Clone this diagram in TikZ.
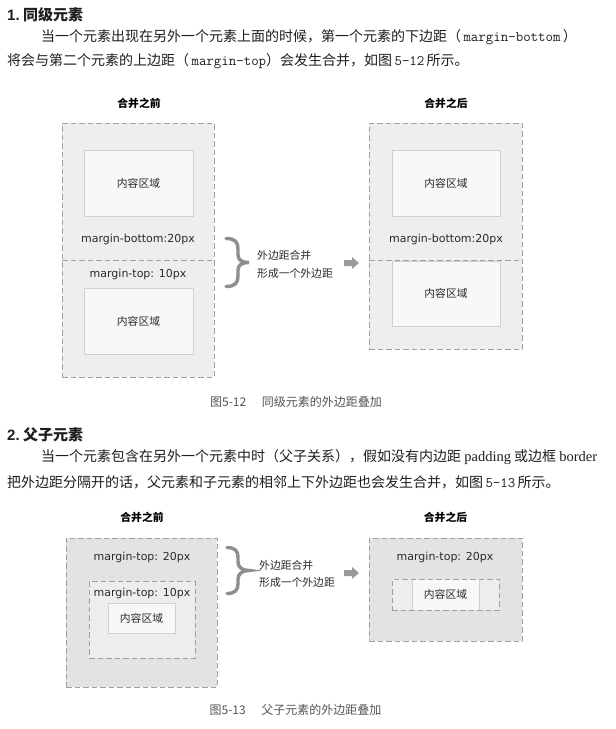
\documentclass[tikz,border=0pt]{standalone}
\usepackage{fontspec}
\setmainfont{Liberation Serif}
\newfontfamily\cjk{Noto Sans CJK SC}
\newfontfamily\dv{DejaVu Sans}
\newfontfamily\hsans{Liberation Sans}
\newfontfamily\lmmono{Latin Modern Mono}
\newcommand{\mcode}[1]{{\lmmono\fontsize{14.5}{16}\selectfont #1}}
\definecolor{bodytxt}{HTML}{1E1E1E}
\definecolor{labc}{HTML}{2A2A2A}
\definecolor{dashc}{HTML}{A0A0A0}
\definecolor{outerA}{HTML}{EEEEEE}
\definecolor{outerB}{HTML}{E3E3E3}
\definecolor{innerB}{HTML}{EDEDED}
\definecolor{contf}{HTML}{F8F8F8}
\definecolor{contd}{HTML}{D0D0D0}
\definecolor{bracec}{HTML}{8E8E8E}
\definecolor{arrc}{HTML}{9A9A9A}
\definecolor{capc}{HTML}{555555}
\begin{document}
\begin{tikzpicture}[x=1pt,y=-1pt,
  box/.style={rectangle, inner sep=0pt, outer sep=0pt, anchor=center},
  outerbox/.style={box, draw=dashc, line width=0.9pt, dash pattern=on 5.5pt off 3pt},
  split/.style={draw=dashc, line width=0.9pt, dash pattern=on 5.5pt off 3pt},
  contbox/.style={box, draw=contd, fill=contf, line width=0.9pt, text=labc, font=\cjk\fontsize{10.8}{12}\selectfont},
  lbl/.style={inner sep=0pt, text=labc, font=\dv\fontsize{11}{12}\selectfont},
  ttl/.style={inner sep=0pt, text=black, font=\cjk\bfseries\fontsize{10.8}{12}\selectfont},
  body/.style={anchor=west, inner sep=0pt, text=bodytxt, font=\cjk\fontsize{14}{16}\selectfont},
  head/.style={anchor=west, inner sep=0pt, text=bodytxt, font=\cjk\bfseries\fontsize{15}{17}\selectfont},
  note/.style={anchor=west, inner sep=0pt, text=labc, font=\cjk\fontsize{10.8}{12}\selectfont},
  figcap/.style={inner sep=0pt, text=capc, font=\cjk\fontsize{12}{13}\selectfont},
  brc/.style={draw=bracec, line width=3.4pt, line cap=round},
  blockarrow/.style={fill=arrc, draw=none}
]
\useasboundingbox[fill=white] (0,0) rectangle (616,729);

% ---------- section 1 text ----------
\node[head] (h1) at (7,15) {{\hsans\bfseries 1.}\ 同级元素};
\node[body] (p1a) at (41,37) {当一个元素出现在另外一个元素上面的时候，第一个元素的下边距（\,\mcode{margin-bottom}\,）};
\node[body] (p1b) at (7,61) {将会与第二个元素的上边距（\,\mcode{margin-top}）会发生合并，如图\,\mcode{5-12}\,所示。};

% ---------- figure 5-12 ----------
\node[ttl] (t1l) at (139,103) {合并之前};
\node[ttl] (t1r) at (446,103) {合并之后};

\node[outerbox, fill=outerA, minimum width=152pt, minimum height=254pt] (o1l) at (138,250) {};
\draw[split] (o1l.west |- 0,260) coordinate (s1a) -- (o1l.east |- 0,260) coordinate (s1b);
\node[contbox, minimum width=109pt, minimum height=66pt] (c1a) at (138.5,183) {内容区域};
\node[contbox, minimum width=109pt, minimum height=66pt] (c1b) at (138.5,321) {内容区域};
\node[lbl] (mb1) at (138,239) {margin-bottom:20px};
\node[lbl] (mt1) at (138,274) {margin-top: 10px};

\draw[brc] (226,238.5) .. controls (235,238.5) and (238,242) .. (238,249) -- (238,255)
  .. controls (238,260) and (242,262.5) .. (249,262.5)
  .. controls (242,262.5) and (238,265) .. (238,270) -- (238,276)
  .. controls (238,283) and (235,286.5) .. (226,286.5);
\node[note] (n1a) at (257,255) {外边距合并};
\node[note] (n1b) at (257,273) {形成一个外边距};
\fill[blockarrow] (344,260) -- (352,260) -- (352,257) -- (359,263) -- (352,269) -- (352,266) -- (344,266) -- cycle;

\node[outerbox, fill=outerA, minimum width=153pt, minimum height=226pt] (o1r) at (445.5,236) {};
\draw[split] (o1r.west |- 0,260) coordinate (s2a) -- (o1r.east |- 0,260) coordinate (s2b);
\node[contbox, minimum width=108pt, minimum height=66pt] (c1c) at (446,183) {内容区域};
\node[contbox, minimum width=108pt, minimum height=65pt] (c1d) at (446,293.5) {内容区域};
\draw[split] (s2a) -- (s2b);
\node[lbl] (mb2) at (446,239) {margin-bottom:20px};

\node[figcap] (cap1) at (296,402) {图5-12\hspace{1.3em}同级元素的外边距叠加};

% ---------- section 2 text ----------
\node[head] (h2) at (7,435) {{\hsans\bfseries 2.}\ 父子元素};
\node[body] (p2a) at (41,457) {当一个元素包含在另外一个元素中时（父子关系），假如没有内边距 {\rmfamily\fontsize{14.5}{16}\selectfont padding} 或边框 {\rmfamily\fontsize{14.5}{16}\selectfont border}};
\node[body] (p2b) at (7,482) {把外边距分隔开的话，父元素和子元素的相邻上下外边距也会发生合并，如图\,\mcode{5-13}\,所示。};

% ---------- figure 5-13 ----------
\node[ttl] (t2l) at (142,517) {合并之前};
\node[ttl] (t2r) at (445.5,517) {合并之后};

\node[outerbox, fill=outerB, minimum width=151pt, minimum height=149pt] (o2l) at (141.5,612.5) {};
\node[lbl] (mt3) at (142,557) {margin-top: 20px};
\node[outerbox, fill=innerB, minimum width=106pt, minimum height=77pt] (i2l) at (142,619.5) {};
\node[lbl] (mt4) at (142,593) {margin-top: 10px};
\node[contbox, minimum width=67pt, minimum height=30pt] (c2a) at (141.5,618) {内容区域};

\draw[brc] (227,547.5) .. controls (235,547.5) and (238,551) .. (238,557) -- (238,562)
  .. controls (238,567) and (242,570.5) .. (249,570.5)
  .. controls (242,570.5) and (238,574) .. (238,579) -- (238,584)
  .. controls (238,590) and (235,593.5) .. (227,593.5);
\node[note] (n2a) at (259,565) {外边距合并};
\node[note] (n2b) at (259,582) {形成一个外边距};
\fill[blockarrow] (344,570) -- (352,570) -- (352,567) -- (359,573) -- (352,579) -- (352,576) -- (344,576) -- cycle;

\node[outerbox, fill=outerB, minimum width=153pt, minimum height=103pt] (o2r) at (445.5,589.5) {};
\node[lbl] (mt5) at (445,557) {margin-top: 20px};
\node[outerbox, fill=innerB, minimum width=107pt, minimum height=31pt] (i2r) at (445.5,594.5) {};
\node[box, fill=contf, minimum width=67pt, minimum height=30pt, text=labc, font=\cjk\fontsize{10.8}{12}\selectfont] (c2b) at (445.5,594.5) {内容区域};
\draw[draw=contd, line width=0.9pt] (c2b.north west) -- (c2b.south west);
\draw[draw=contd, line width=0.9pt] (c2b.north east) -- (c2b.south east);

\node[figcap] (cap2) at (295.5,710) {图5-13\hspace{1.3em}父子元素的外边距叠加};
\end{tikzpicture}
\end{document}
